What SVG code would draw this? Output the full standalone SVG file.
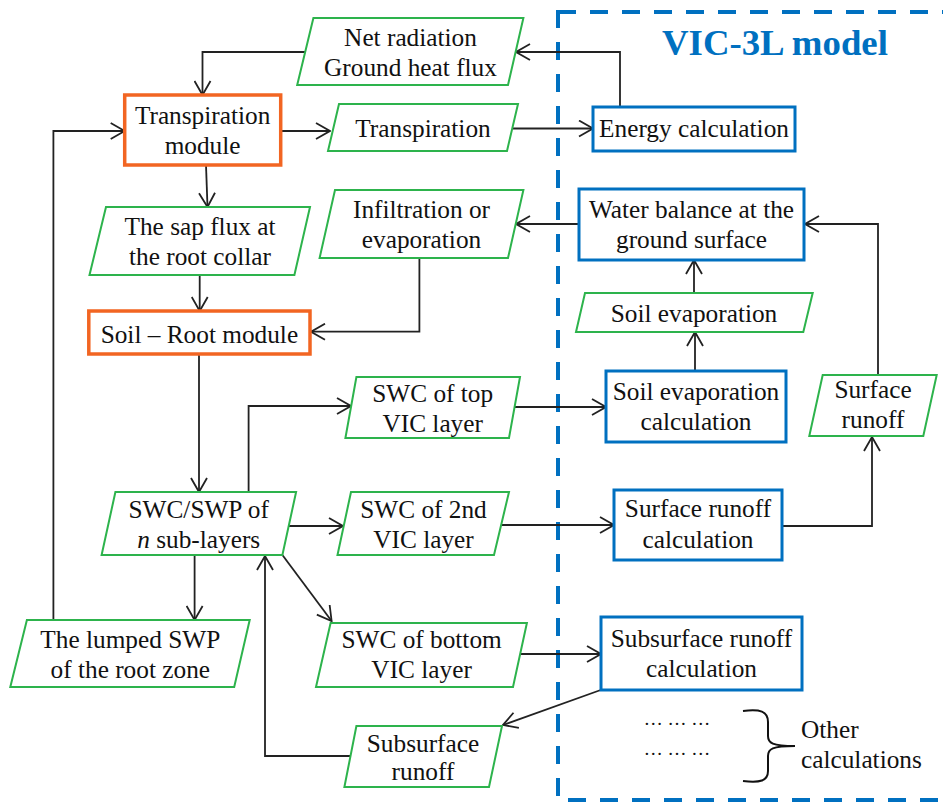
<svg xmlns="http://www.w3.org/2000/svg" width="943" height="802" viewBox="0 0 943 802" font-family="'Liberation Serif', 'Times New Roman', Times, 'DejaVu Serif', serif">
<style>
  .para { fill: #fff; stroke: #2DB34C; stroke-width: 2; }
  .orange { fill: #fff; stroke: #F26522; stroke-width: 3.5; }
  .blue { fill: #fff; stroke: #0070C0; stroke-width: 3; }
  text { font-family: 'Liberation Serif', 'Times New Roman', Times, 'DejaVu Serif', serif; font-size: 25.3px; fill: #111; text-anchor: middle; }
  .title { font-size: 36.8px; font-weight: bold; fill: #0070C0; text-anchor: start; }
  .left { text-anchor: start; }
  .conn path { fill: none; stroke: #222; stroke-width: 1.8; }
</style>
<defs>
  <marker id="arr" viewBox="0 0 16 18" refX="15" refY="9" markerWidth="16" markerHeight="18" markerUnits="userSpaceOnUse" orient="auto">
    <path d="M1,1 L15,9 L1,17" fill="none" stroke="#222" stroke-width="1.8"/>
  </marker>
</defs>
<rect x="558" y="12" width="420" height="788" fill="none" stroke="#0070C0" stroke-width="4" stroke-dasharray="18 14"/>
<text class="title" x="662" y="55">VIC-3L model</text>

<g class="conn">
  <path d="M620,107 V52 H516" marker-end="url(#arr)"/>
  <path d="M306,52 H202.5 V95" marker-end="url(#arr)"/>
  <path d="M281,131 H330" marker-end="url(#arr)"/>
  <path d="M513,128.5 H593" marker-end="url(#arr)"/>
  <path d="M206,165 L207.5,207" marker-end="url(#arr)"/>
  <path d="M199.7,275 V311" marker-end="url(#arr)"/>
  <path d="M579,224 H516" marker-end="url(#arr)"/>
  <path d="M419.4,258 V331.7 H311" marker-end="url(#arr)"/>
  <path d="M694,293 V260" marker-end="url(#arr)"/>
  <path d="M695,371 V332" marker-end="url(#arr)"/>
  <path d="M878,375 V224 H805" marker-end="url(#arr)"/>
  <path d="M782,526 H872 V437" marker-end="url(#arr)"/>
  <path d="M199,354 V492" marker-end="url(#arr)"/>
  <path d="M248.6,492 V406 H351" marker-end="url(#arr)"/>
  <path d="M514,407 H606" marker-end="url(#arr)"/>
  <path d="M289,526 H343" marker-end="url(#arr)"/>
  <path d="M502,525 H614" marker-end="url(#arr)"/>
  <path d="M194.6,555 V620" marker-end="url(#arr)"/>
  <path d="M53.4,620 V131 H124.7" marker-end="url(#arr)"/>
  <path d="M282.4,555 L331.6,621" marker-end="url(#arr)"/>
  <path d="M520,654 H601" marker-end="url(#arr)"/>
  <path d="M600.7,690 L503,725" marker-end="url(#arr)"/>
  <path d="M350.5,756 H265 V556" marker-end="url(#arr)"/>
</g>

<g id="net-radiation">
  <polygon class="para" points="313.4,18 523.4,18 508,85 297.2,85"/>
  <text x="410.5" y="46">Net radiation</text>
  <text x="410.5" y="76">Ground heat flux</text>
</g>
<g id="transpiration-module">
  <rect class="orange" x="124.7" y="95" width="156" height="70"/>
  <text x="202.6" y="124">Transpiration</text>
  <text x="202.6" y="154">module</text>
</g>
<g id="transpiration">
  <polygon class="para" points="339,104 518,104 507,151 328,151"/>
  <text x="423" y="137">Transpiration</text>
</g>
<g id="energy-calculation">
  <rect class="blue" x="593" y="107" width="202" height="44"/>
  <text x="694" y="137">Energy calculation</text>
</g>
<g id="sap-flux">
  <polygon class="para" points="106,207 310,207 294.4,275 89.5,275"/>
  <text x="200" y="235">The sap flux at</text>
  <text x="200" y="265">the root collar</text>
</g>
<g id="infiltration">
  <polygon class="para" points="335,190 523.4,190 508,258 319.6,258"/>
  <text x="421.5" y="218">Infiltration or</text>
  <text x="421.5" y="248">evaporation</text>
</g>
<g id="water-balance">
  <rect class="blue" x="579" y="189" width="225" height="71"/>
  <text x="691.5" y="218">Water balance at the</text>
  <text x="691.5" y="248">ground surface</text>
</g>
<g id="soil-evaporation">
  <polygon class="para" points="585,293 812.7,293 803.3,332 576,332"/>
  <text x="694" y="322">Soil evaporation</text>
</g>
<g id="soil-root-module">
  <rect class="orange" x="88.8" y="311" width="221.2" height="43"/>
  <text x="199.4" y="343">Soil – Root module</text>
</g>
<g id="swc-top">
  <polygon class="para" points="356.4,377 520,377 509,438 345.4,438"/>
  <text x="432.7" y="402">SWC of top</text>
  <text x="432.7" y="432">VIC layer</text>
</g>
<g id="soil-evaporation-calculation">
  <rect class="blue" x="606" y="371" width="180" height="71"/>
  <text x="696" y="400">Soil evaporation</text>
  <text x="696" y="430">calculation</text>
</g>
<g id="surface-runoff">
  <polygon class="para" points="822.7,375 936.7,375 923.3,436 809.3,436"/>
  <text x="873" y="398">Surface</text>
  <text x="873" y="428">runoff</text>
</g>
<g id="swc-swp">
  <polygon class="para" points="115.4,492 296.1,492 282.4,555 101.6,555"/>
  <text x="198.7" y="518">SWC/SWP of</text>
  <text x="198.7" y="548"><tspan font-style="italic">n</tspan> sub-layers</text>
</g>
<g id="swc-2nd">
  <polygon class="para" points="351,492 509,492 494,555 337.5,555"/>
  <text x="423.5" y="518">SWC of 2nd</text>
  <text x="423.5" y="548">VIC layer</text>
</g>
<g id="surface-runoff-calculation">
  <rect class="blue" x="614" y="490" width="168" height="70"/>
  <text x="698" y="517">Surface runoff</text>
  <text x="698" y="548">calculation</text>
</g>
<g id="lumped-swp">
  <polygon class="para" points="26.9,620 249.7,620 234.2,687 10.3,687"/>
  <text x="130.3" y="648">The lumped SWP</text>
  <text x="130.3" y="678">of the root zone</text>
</g>
<g id="swc-bottom">
  <polygon class="para" points="330.6,623 526.9,623 513,687 316,687"/>
  <text x="421.6" y="648">SWC of bottom</text>
  <text x="421.6" y="678">VIC layer</text>
</g>
<g id="subsurface-runoff-calculation">
  <rect class="blue" x="601" y="617" width="201" height="73"/>
  <text x="701.5" y="647">Subsurface runoff</text>
  <text x="701.5" y="677">calculation</text>
</g>
<g id="subsurface-runoff">
  <polygon class="para" points="356.4,726 502,726 489,787 344.4,787"/>
  <text x="423" y="752">Subsurface</text>
  <text x="423" y="780">runoff</text>
</g>
<g id="other-calculations">
  <text x="677" y="725" style="font-size:19px">… … …</text>
  <text x="677" y="755" style="font-size:19px">… … …</text>
  <path d="M743,711 C760,709 768,711 768,722 V736 C768,743 772,746 795,746 C772,746 768,749 768,756 V771 C768,781 760,783 743,781" fill="none" stroke="#111" stroke-width="2"/>
  <text class="left" x="801" y="738">Other</text>
  <text class="left" x="801" y="768">calculations</text>
</g>
</svg>
